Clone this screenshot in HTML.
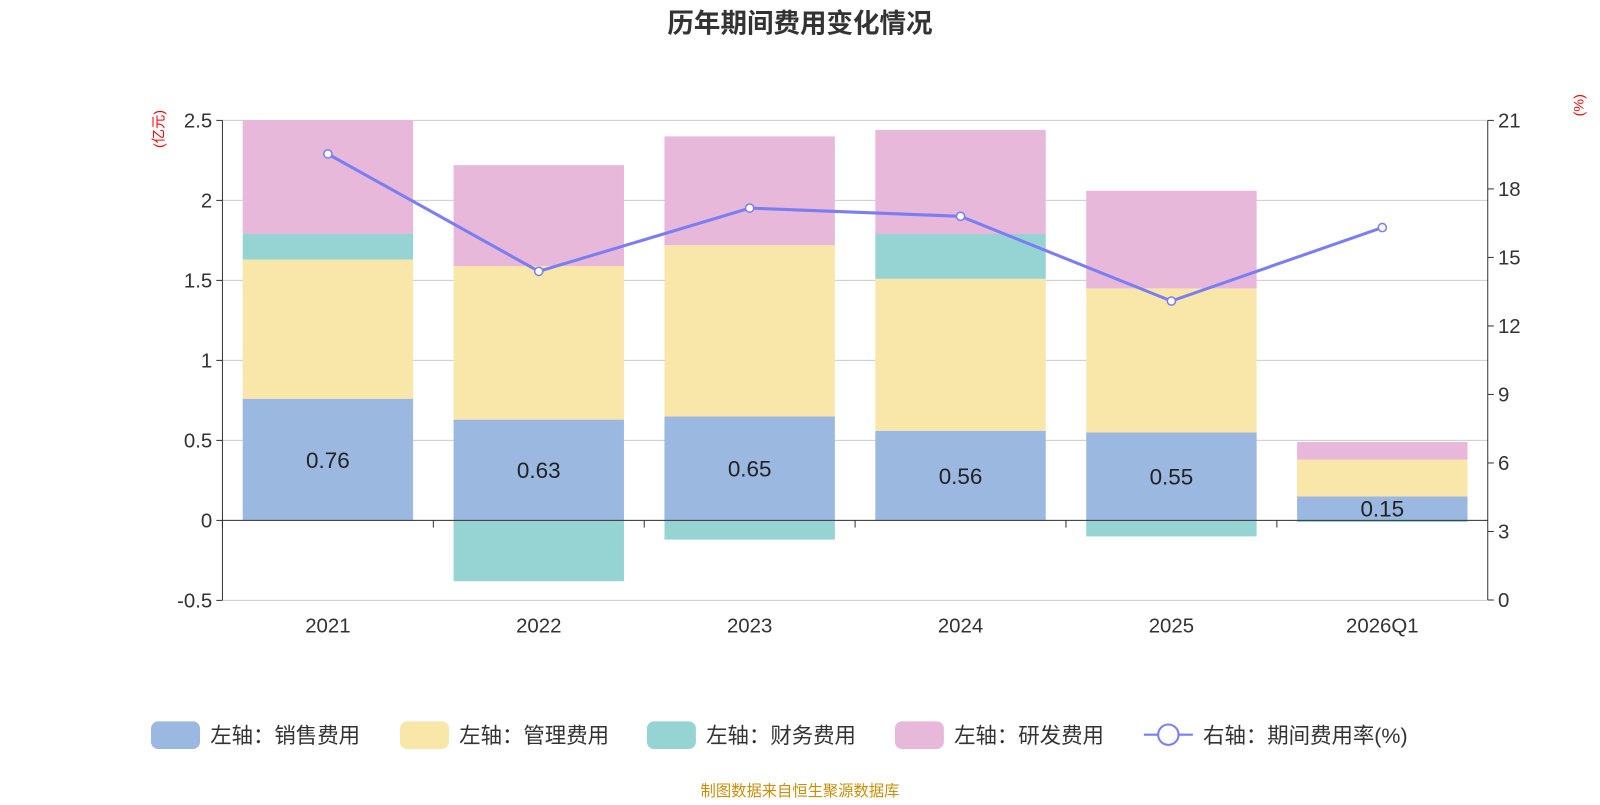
<!DOCTYPE html>
<html><head><meta charset="utf-8"><style>
body{margin:0;background:#fff;font-family:"Liberation Sans","Noto Sans CJK SC",sans-serif}
svg text{font-family:"Liberation Sans","Noto Sans CJK SC",sans-serif}
</style></head><body>
<svg id="c" width="1600" height="800">
<g transform="scale(1.0204)">
<text x="784" y="32" text-anchor="middle" font-size="26" font-weight="bold" fill="#333">历年期间费用变化情况</text>
<text x="160" y="145" font-size="14" fill="red" transform="rotate(-90 160 145)">(亿元)</text>
<text x="1552" y="114" font-size="14" fill="red" transform="rotate(-90 1552 114)">(%)</text>
<g id="grid"></g><g id="bars"></g><g id="axes"></g><g id="line"></g>
<g id="legend"></g>
<text x="784" y="780" text-anchor="middle" font-size="15" fill="#c8900a">制图数据来自恒生聚源数据库</text>
</g>
</svg>
<script>
const categories=["2021","2022","2023","2024","2025","2026Q1"];
const sales=[0.76,0.63,0.65,0.56,0.55,0.15];
const mgmt=[0.87,0.96,1.07,0.95,0.90,0.23];
const fin=[0.16,-0.38,-0.12,0.28,-0.10,-0.01];
const rd=[0.71,0.63,0.68,0.65,0.61,0.11];
const rate=[19.53,14.39,17.16,16.8,13.09,16.31];
const leftTicks=[-0.5,0,0.5,1,1.5,2,2.5];
const rightTicks=[0,3,6,9,12,15,18,21];
const NS="http://www.w3.org/2000/svg";
const X0=218,X1=1458,Y0=118,Y1=588;
const yL=v=>510-v*156.8;
const yR=v=>Y1-v/21*(Y1-Y0);
const cw=(X1-X0)/categories.length, bw=167;
const cx=i=>X0+cw*(i+0.5);
function mk(p,t,a){const e=document.createElementNS(NS,t);for(const k in a)e.setAttribute(k,a[k]);p.appendChild(e);return e;}
const grid=document.getElementById('grid'),axes=document.getElementById('axes'),bars=document.getElementById('bars'),line=document.getElementById('line'),lg=document.getElementById('legend');
leftTicks.forEach(v=>{
 const g=mk(grid,'line',{x1:X0,x2:X1,y1:yL(v),y2:yL(v),stroke:'#ccc','stroke-width':1});
 
 
 const t=mk(axes,'text',{x:X0-10,y:yL(v)+7,'text-anchor':'end','font-size':20,fill:'#333'});t.textContent=v;
 
 
 mk(axes,'line',{x1:X0-6,x2:X0,y1:yL(v),y2:yL(v),stroke:'#333'});
});
rightTicks.forEach(v=>{
 const t=mk(axes,'text',{x:X1+10,y:yR(v)+7,'font-size':20,fill:'#333'});t.textContent=v;
 
 
 mk(axes,'line',{x1:X1,x2:X1+6,y1:yR(v),y2:yR(v),stroke:'#333'});
});
mk(axes,'line',{x1:X0,x2:X0,y1:Y0,y2:Y1,stroke:'#333'});
mk(axes,'line',{x1:X1,x2:X1,y1:Y0,y2:Y1,stroke:'#333'});
mk(axes,'line',{x1:X0,x2:X1,y1:510,y2:510,stroke:'#333'});
categories.forEach((c,i)=>{
 mk(axes,'line',{x1:X0+cw*i,x2:X0+cw*i,y1:510,y2:517,stroke:'#333'});
 const t=mk(axes,'text',{x:cx(i),y:620,'text-anchor':'middle','font-size':20,fill:'#333'});t.textContent=c;
 
 
});
const series=[[sales,'#9bb8e0','sales'],[mgmt,'#f8e7a9','mgmt'],[fin,'#96d4d4','finance'],[rd,'#e7b8d9','rd']];
categories.forEach((c,i)=>{
 let pos=0,neg=0;
 series.forEach(([arr,col,nm])=>{
  const v=arr[i];let a,b;
  if(v>=0){a=pos;b=pos+v;pos=b;}else{a=neg;b=neg+v;neg=b;}
  const top=Math.min(yL(a),yL(b)),h=Math.abs(yL(a)-yL(b));
  const r=mk(bars,'rect',{x:cx(i)-bw/2,y:top,width:bw,height:h,fill:col});
  
  
 });
 const t=mk(bars,'text',{x:cx(i),y:yL(sales[i]/2)+8,'text-anchor':'middle','font-size':22,fill:'#222'});t.textContent=sales[i].toFixed(2);
 
 
});
const pts=rate.map((v,i)=>cx(i)+','+yR(v)).join(' ');
const pl=mk(line,'polyline',{points:pts,fill:'none',stroke:'#7b7ef2','stroke-width':3});


rate.forEach((v,i)=>{
 const p=mk(line,'circle',{cx:cx(i),cy:yR(v),r:4,fill:'#fff',stroke:'#7b7ef2','stroke-width':1.5});
 
 
});
const leg=[['左轴：销售费用','#9bb8e0',148],['左轴：管理费用','#f8e7a9',392],['左轴：财务费用','#96d4d4',634],['左轴：研发费用','#e7b8d9',877]];
leg.forEach(([t,c,x])=>{
 const g=mk(lg,'g',{});
 
 
 mk(g,'rect',{x:x,y:707,width:48,height:27,rx:7,fill:c});
 const tt=mk(g,'text',{x:x+58,y:728,'font-size':21,fill:'#333'});tt.textContent=t;
});
const g=mk(lg,'g',{});


mk(g,'line',{x1:1121,x2:1169,y1:720,y2:720,stroke:'#7b7ef2','stroke-width':2});
mk(g,'circle',{cx:1145,cy:720,r:10,fill:'#fff',stroke:'#7b7ef2','stroke-width':2});
const tt=mk(g,'text',{x:1179,y:728,'font-size':21,fill:'#333'});tt.textContent='右轴：期间费用率(%)';
</script>
</body></html>
